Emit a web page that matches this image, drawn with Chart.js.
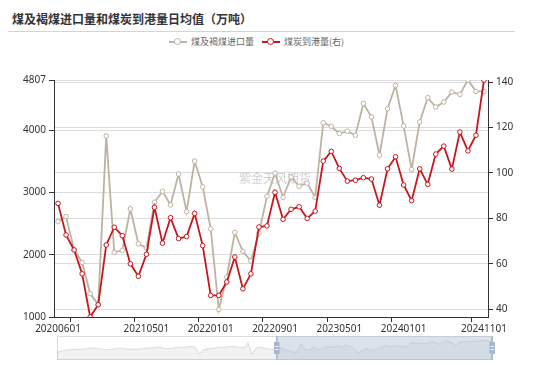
<!DOCTYPE html>
<html>
<head>
<meta charset="utf-8">
<script src="https://cdn.jsdelivr.net/npm/chart.js@4.4.1/dist/chart.umd.min.js"></script>
<style>
  html, body { margin: 0; padding: 0; background: #fff; }
  #wrap { position: relative; width: 550px; height: 365px; overflow: hidden; font-family: "Noto Sans CJK SC", "Noto Sans", sans-serif; }
  #title { position: absolute; left: 12px; top: 10px; font-size: 12px; font-weight: bold; color: #333; white-space: nowrap; }
  #sep { position: absolute; left: 8px; top: 31px; width: 507px; height: 1px; background: #d4d4d4; }
  #legend { position: absolute; left: 169px; top: 35px; height: 13px; display: flex; align-items: center; font-size: 9px; color: #666; white-space: nowrap; }
  .item { display: flex; align-items: center; margin-right: 8px; }
  .icon { position: relative; width: 18px; height: 10px; margin-right: 4px; }
  .icon .ln { position: absolute; left: 0; right: 0; top: 4px; height: 2px; }
  .icon .dot { position: absolute; left: 5px; top: 1px; width: 5px; height: 5px; border-radius: 50%; background: #fff; border: 1.5px solid; }
  canvas { position: absolute; left: 0; }
</style>
</head>
<body>
<div id="wrap">
  <div id="title">煤及褐煤进口量和煤炭到港量日均值（万吨）</div>
  <div id="sep"></div>
  <div id="legend"></div>
  <canvas id="main" width="550" height="365" style="top:0"></canvas>
  <canvas id="slider" width="550" height="24" style="top:336px"></canvas>
</div>
<script>
// categories (monthly)
const months = [
  '20200601','20200701','20200801','20200901','20201001','20201101','20201201',
  '20210101','20210201','20210301','20210401','20210501','20210601','20210701','20210801','20210901','20211001','20211101','20211201',
  '20220101','20220201','20220301','20220401','20220501','20220601','20220701','20220801','20220901','20221001','20221101','20221201',
  '20230101','20230201','20230301','20230401','20230501','20230601','20230701','20230801','20230901','20231001','20231101','20231201',
  '20240101','20240201','20240301','20240401','20240501','20240601','20240701','20240801','20240901','20241001','20241101'
];
const xTickLabels = ['20200601','20210501','20220101','20220901','20230501','20240101','20241101'];

// 煤及褐煤进口量 (left axis)
const coalImports = [
  2533, 2613, 2080, 1877, 1376, 1200, 3909,
  2037, 2069, 2736, 2176, 2107, 2843, 3019, 2800, 3296, 2693, 3504, 3093,
  2416, 1120, 1643, 2357, 2053, 1900, 2347, 2940, 3310, 2920, 3250, 3100,
  3150, 2920, 4120, 4064, 3947, 3984, 3920, 4430, 4213, 3600, 4347, 4720,
  4069, 3371, 4133, 4523, 4373, 4453, 4613, 4576, 4807, 4624, 4624
];

// 煤炭到港量 (right axis)
const portArrivals = [
  86.6, 72.7, 66.1, 55.6, 36.6, 42.0, 68.3,
  76.1, 72.4, 60.0, 54.5, 64.2, 84.9, 69.1, 80.3, 71.1, 72.0, 82.2, 68.0,
  46.1, 46.1, 52.0, 63.0, 49.0, 55.6, 76.2, 76.7, 91.5, 79.6, 84.0, 85.1,
  80.0, 83.2, 105.2, 109.5, 102.0, 96.4, 96.8, 97.9, 97.3, 85.8, 101.8, 107.1,
  94.7, 87.8, 101.8, 95.0, 108.3, 111.8, 101.7, 118.0, 109.7, 116.6, 140.9
];

// earlier imports, only seen in the zoom slider shadow (rough estimates)
const earlyImports = [
  1300, 1600, 1900, 2000, 2100, 2200, 2200, 2300, 2500, 2600, 2400, 2200, 2000, 2100,
  2300, 2500, 2500, 2300, 2200, 2300, 2200, 2400, 2500, 2600, 2600, 2800, 2600, 2300,
  2400, 2600, 2800, 2800, 2900, 3000, 2900, 800, 2000, 2300, 2400, 2600, 2800, 2800,
  2900, 3000, 2900, 2700, 2600, 4200, 700, 2600, 2800, 2500, 2300, 2100
];

const leftTicks = [1000, 2000, 3000, 4000, 4807];
const rightTicks = [40, 60, 80, 100, 120, 140];

const GRAY = '#beb3a2';
const RED = '#c8161d';
const AXIS = '#333';
const GRID = '#dcdcdc';
const FONT = { family: '"Noto Sans", "Noto Sans CJK SC", sans-serif', size: 10 };

// x tick marks sit on band edges, like the original
const tickMarkIdx = new Set([2, 10, 18, 26, 34, 42, 52]);

const watermark = {
  id: 'watermark',
  beforeDatasetsDraw(chart) {
    const { ctx, chartArea } = chart;
    ctx.save();
    ctx.font = '12px "Noto Sans CJK SC", sans-serif';
    ctx.fillStyle = 'rgba(160,160,160,0.5)';
    ctx.textAlign = 'center';
    ctx.textBaseline = 'middle';
    ctx.fillText('紫金天风期货', (chartArea.left + chartArea.right) / 2 + 4, 178);
    ctx.restore();
  }
};

const datasets = [
  {
    label: '煤及褐煤进口量', data: coalImports, yAxisID: 'yL', order: 1,
    borderColor: GRAY, borderWidth: 1.8, pointRadius: 2.3, pointBorderWidth: 1,
    pointBackgroundColor: '#fff', pointBorderColor: GRAY, tension: 0
  },
  {
    label: '煤炭到港量(右)', data: portArrivals, yAxisID: 'yR', order: 0,
    borderColor: RED, borderWidth: 1.8, pointRadius: 2.3, pointBorderWidth: 1,
    pointBackgroundColor: '#fff', pointBorderColor: RED, tension: 0
  }
];

// html legend built from the datasets
const legendEl = document.getElementById('legend');
datasets.forEach(ds => {
  const item = document.createElement('div');
  item.className = 'item';
  item.innerHTML = '<span class="icon"><span class="ln" style="background:' + ds.borderColor +
    '"></span><span class="dot" style="border-color:' + ds.borderColor + '"></span></span>' + ds.label;
  legendEl.appendChild(item);
});

new Chart(document.getElementById('main'), {
  type: 'line',
  data: { labels: months, datasets: datasets },
  options: {
    responsive: false,
    animation: false,
    layout: { padding: { top: 80, left: 0, right: 12, bottom: 28 } },
    plugins: { legend: { display: false }, tooltip: { enabled: false } },
    scales: {
      x: {
        offset: true,
        afterFit(scale) { scale.height = 20; },
        border: { display: true, color: AXIS, width: 1 },
        grid: {
          offset: true, drawOnChartArea: false, tickLength: 5,
          tickColor: ctx => tickMarkIdx.has(ctx.index) ? AXIS : 'rgba(0,0,0,0)'
        },
        ticks: {
          autoSkip: false, maxRotation: 0, padding: 1, color: AXIS, font: FONT,
          callback: (v, i) => xTickLabels.includes(months[i]) ? months[i] : ''
        }
      },
      yL: {
        position: 'left',
        min: 1000, max: 4807,
        afterFit(scale) { scale.width = 54; },
        afterBuildTicks(scale) { scale.ticks = leftTicks.map(v => ({ value: v })); },
        border: { display: true, color: AXIS, width: 1 },
        grid: { color: GRID, tickColor: AXIS, tickLength: 5 },
        ticks: { color: AXIS, font: FONT, padding: 3, callback: v => String(v) }
      },
      yR: {
        position: 'right',
        min: Math.min(...portArrivals), max: Math.max(...portArrivals),
        afterFit(scale) { scale.width = 50; },
        afterBuildTicks(scale) { scale.ticks = rightTicks.map(v => ({ value: v })); },
        border: { display: true, color: AXIS, width: 1 },
        grid: { color: GRID, tickColor: AXIS, tickLength: 5 },
        ticks: { color: AXIS, font: FONT, padding: 3, callback: v => String(v) }
      }
    }
  },
  plugins: [watermark]
});

// zoom slider
const overview = earlyImports.concat(coalImports);
const selStart = earlyImports.length;

const sliderDeco = {
  id: 'sliderDeco',
  beforeDatasetsDraw(chart) {
    const { ctx, chartArea: a } = chart;
    ctx.save();
    ctx.strokeStyle = '#dddddd';
    ctx.lineWidth = 1;
    ctx.strokeRect(a.left + 0.5, a.top + 0.5, a.right - a.left - 1, a.bottom - a.top - 1);
    ctx.restore();
  },
  afterDatasetsDraw(chart) {
    const { ctx, chartArea: a, scales } = chart;
    const x0 = scales.x.getPixelForValue(selStart);
    const x1 = scales.x.getPixelForValue(overview.length - 1);
    ctx.save();
    ctx.fillStyle = 'rgba(167,183,204,0.4)';
    ctx.fillRect(x0, a.top, x1 - x0, a.bottom - a.top);
    const mid = (a.top + a.bottom) / 2;
    [x0, x1].forEach(x => {
      ctx.fillStyle = '#a7b7cc';
      ctx.fillRect(x - 0.5, a.top, 1.5, a.bottom - a.top);
      ctx.fillRect(x - 2.5, mid - 6, 5.5, 12);
      ctx.strokeStyle = '#fff';
      ctx.lineWidth = 0.8;
      ctx.beginPath();
      ctx.moveTo(x - 1.5, mid - 1.5); ctx.lineTo(x + 2, mid - 1.5);
      ctx.moveTo(x - 1.5, mid + 1.5); ctx.lineTo(x + 2, mid + 1.5);
      ctx.stroke();
    });
    ctx.restore();
  }
};

new Chart(document.getElementById('slider'), {
  type: 'line',
  data: {
    labels: overview.map((_, i) => i),
    datasets: [{
      data: overview, fill: 'start', borderColor: 'rgba(47,69,84,0.25)', borderWidth: 0.6,
      backgroundColor: 'rgba(47,69,84,0.07)', pointRadius: 0, tension: 0
    }]
  },
  options: {
    responsive: false,
    animation: false,
    layout: { padding: { left: 57, right: 58, top: 0, bottom: 0 } },
    plugins: { legend: { display: false }, tooltip: { enabled: false } },
    scales: {
      x: { display: false },
      y: { display: false, min: -1000, max: 6100 }
    }
  },
  plugins: [sliderDeco]
});
</script>
</body>
</html>
